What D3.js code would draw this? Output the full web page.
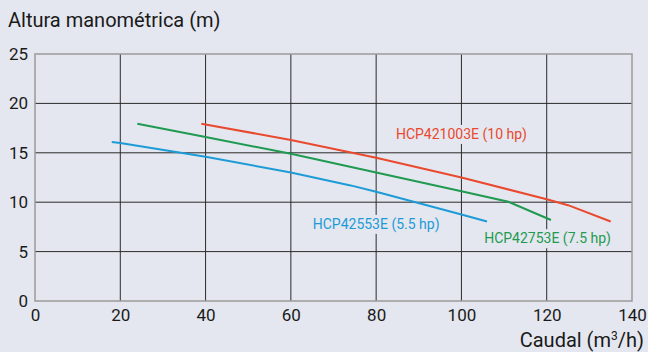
<!DOCTYPE html>
<html>
<head>
<meta charset="utf-8">
<script src="https://cdn.jsdelivr.net/npm/d3@7"></script>
<style>
  html, body { margin: 0; padding: 0; background: #e4e7ef; }
  svg { display: block; font-family: Roboto, "Noto Sans", sans-serif; }
</style>
</head>
<body>
<script>
const fullwidth = 648;
const fullheight = 352;

const xTicks = [0, 20, 40, 60, 80, 100, 120, 140];
const yTicks = [0, 5, 10, 15, 20, 25];

// caudal (m3/h) vs altura (m)
const blueFlow = [18, 20, 40, 60, 74, 80, 100, 106];
const blueHead = [16.1, 16.0, 14.6, 13.0, 11.7, 11.05, 8.75, 8.05];
const greenFlow = [24, 40, 60, 80, 100, 111, 121];
const greenHead = [17.95, 16.6, 14.9, 13.0, 11.1, 10.05, 8.2];
const redFlow = [39, 60, 80, 100, 120, 125, 135];
const redHead = [17.95, 16.3, 14.5, 12.5, 10.3, 9.7, 8.05];

const seriesNames = ["HCP42553E (5.5 hp)", "HCP42753E (7.5 hp)", "HCP421003E (10 hp)"];
const seriesColors = ["#1c9bd7", "#1f9a50", "#e9492e"];
// label anchor in data units (x, y)
const labelPos = [[80, 7.3], [120.2, 5.85], [100, 16.4]];

const series = [
  d3.zip(blueFlow, blueHead),
  d3.zip(greenFlow, greenHead),
  d3.zip(redFlow, redHead)
];

const x = d3.scaleLinear().domain([0, 140]).range([35, 632]);
const y = d3.scaleLinear().domain([0, 25]).range([301, 54]);

const svg = d3.select("body")
  .append("svg")
  .attr("width", fullwidth)
  .attr("height", fullheight);

// grid
svg.append("g")
  .selectAll("line")
  .data(xTicks.slice(1, -1))
  .join("line")
  .attr("x1", d => x(d)).attr("x2", d => x(d))
  .attr("y1", y(25)).attr("y2", y(0))
  .attr("stroke", "#2a2a2a").attr("stroke-width", 1);

svg.append("g")
  .selectAll("line")
  .data(yTicks.slice(1, -1))
  .join("line")
  .attr("x1", x(0)).attr("x2", x(140))
  .attr("y1", d => y(d)).attr("y2", d => y(d))
  .attr("stroke", "#2a2a2a").attr("stroke-width", 1);

// frame
svg.append("rect")
  .attr("x", x(0)).attr("y", y(25))
  .attr("width", x(140) - x(0)).attr("height", y(0) - y(25))
  .attr("fill", "none")
  .attr("stroke", "#9a9a9a").attr("stroke-width", 1.5);

// axes (labels only)
const xAxis = svg.append("g")
  .attr("transform", `translate(0,${y(0)})`)
  .call(d3.axisBottom(x).tickValues(xTicks).tickSize(0).tickPadding(8));
const yAxis = svg.append("g")
  .attr("transform", `translate(${x(0)},0)`)
  .call(d3.axisLeft(y).tickValues(yTicks).tickSize(0).tickPadding(7));
[xAxis, yAxis].forEach(g => {
  g.select(".domain").remove();
  g.selectAll("text")
    .attr("fill", "#1a1a1a")
    .style("font-size", "17px")
    .style("font-family", "Roboto, sans-serif");
});

svg.append("text")
  .attr("x", 8).attr("y", 27)
  .attr("fill", "#1a1a1a")
  .style("font-size", "20px")
  .text("Altura manométrica (m)");

const xTitle = svg.append("text")
  .attr("x", 644).attr("y", 347)
  .attr("text-anchor", "end")
  .attr("fill", "#1a1a1a")
  .style("font-size", "20px");
xTitle.append("tspan").text("Caudal (m");
xTitle.append("tspan").attr("dy", -7).style("font-size", "12px").text("3");
xTitle.append("tspan").attr("dy", 7).text("/h)");

// curves
const line = d3.line().x(d => x(d[0])).y(d => y(d[1]));
svg.append("g")
  .selectAll("path")
  .data(series)
  .join("path")
  .attr("d", line)
  .attr("fill", "none")
  .attr("stroke", (d, i) => seriesColors[i])
  .attr("stroke-width", 2);

// series labels on a background box that hides the grid behind them
const labels = svg.append("g")
  .selectAll("g")
  .data(seriesNames)
  .join("g");
const labelText = labels.append("text")
  .attr("x", (d, i) => x(labelPos[i][0]))
  .attr("y", (d, i) => y(labelPos[i][1]))
  .attr("text-anchor", "middle")
  .attr("fill", (d, i) => seriesColors[i])
  .style("font-size", "14px")
  .text(d => d);
labels.insert("rect", "text")
  .each(function (d, i) {
    const b = labelText.nodes()[i].getBBox();
    d3.select(this)
      .attr("x", b.x - 3).attr("y", b.y - 1)
      .attr("width", b.width + 6).attr("height", b.height + 2)
      .attr("fill", "#e4e7ef");
  });
</script>
</body>
</html>
